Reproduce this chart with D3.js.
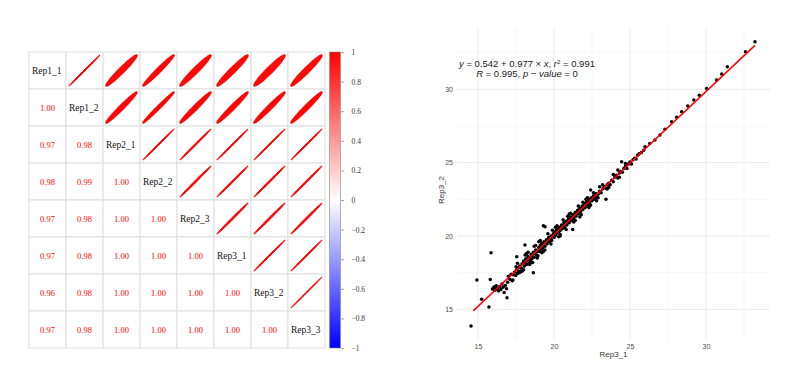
<!DOCTYPE html>
<html>
<head>
<meta charset="utf-8">
<script src="https://cdn.jsdelivr.net/npm/d3@7"></script>
<style>
  body { margin: 0; background: #fff; }
  svg { display: block; }
</style>
</head>
<body>
<script>
// sample names for the correlation matrix
const samples = ['Rep1_1', 'Rep1_2', 'Rep2_1', 'Rep2_2', 'Rep2_3', 'Rep3_1', 'Rep3_2', 'Rep3_3'];

// pearson correlations (symmetric)
const corr = [
    [1.000, 0.998, 0.970, 0.980, 0.970, 0.970, 0.960, 0.970],
    [0.998, 1.000, 0.980, 0.990, 0.980, 0.980, 0.980, 0.980],
    [0.970, 0.980, 1.000, 0.998, 0.997, 0.998, 0.998, 0.998],
    [0.980, 0.990, 0.998, 1.000, 0.996, 0.997, 0.997, 0.997],
    [0.970, 0.980, 0.997, 0.996, 1.000, 0.996, 0.996, 0.996],
    [0.970, 0.980, 0.998, 0.997, 0.996, 1.000, 0.998, 0.998],
    [0.960, 0.980, 0.998, 0.997, 0.996, 0.998, 1.000, 0.999],
    [0.970, 0.980, 0.998, 0.997, 0.996, 0.998, 0.999, 1.000]
];

const legendTicks = [1, 0.8, 0.6, 0.4, 0.2, 0, -0.2, -0.4, -0.6, -0.8, -1];

// Rep3_1 vs Rep3_2 values
const rep3_1 = [
    14.54, 14.93, 15.24, 15.72, 15.86, 15.81, 16.91, 16.07, 19.30, 19.41, 18.64, 17.55, 21.23, 18.09,
    24.45, 23.42, 22.41,
    15.95, 16.05, 16.12, 16.20, 16.28, 16.35, 16.42, 16.50, 16.58, 16.65, 16.72, 16.80, 16.88, 16.95,
    17.00, 17.10, 17.18, 17.25, 17.32, 17.40, 17.48,
    17.55, 17.60, 17.65, 17.70, 17.75, 17.80, 17.85, 17.90, 17.95, 18.00, 18.05, 18.10, 18.15, 18.20,
    18.25, 18.30, 18.35, 18.40, 18.45, 18.50, 18.55, 18.60, 18.65, 18.70, 18.75, 18.80, 18.85, 18.90,
    18.95, 19.00, 19.05, 19.10, 19.15, 19.20, 19.25, 19.30, 19.35, 19.40, 19.45, 19.50, 19.55, 19.60,
    19.65, 19.70, 19.75, 19.80, 19.85, 19.90, 19.95, 20.00,
    18.30, 18.60, 19.00, 18.00, 17.50, 19.20,
    20.05, 20.10, 20.15, 20.20, 20.25, 20.30, 20.35, 20.40, 20.45, 20.50, 20.55, 20.60, 20.65, 20.70,
    20.75, 20.80, 20.85, 20.90, 20.95, 21.00, 21.05, 21.10, 21.15, 21.20, 21.25, 21.30, 21.35, 21.40,
    21.45, 21.50, 21.55, 21.60, 21.65, 21.70, 21.75, 21.80, 21.85, 21.90, 21.95, 22.00, 22.05, 22.10,
    22.15, 22.20, 22.25, 22.30, 22.35, 22.40, 22.45, 22.50, 22.55, 22.60, 22.65, 22.70, 22.75, 22.80,
    22.90, 23.00,
    20.40, 21.00, 21.70, 20.20, 22.20, 22.80,
    23.10, 23.20, 23.30, 23.40, 23.50, 23.60, 23.70, 23.80, 23.90, 24.00, 24.10, 24.20, 24.30, 24.40,
    24.50, 24.60, 24.70, 24.80, 24.90, 25.00, 25.10, 25.20, 25.30, 25.40, 25.50, 25.60, 25.75, 25.90,
    25.99, 26.30, 26.64, 26.97, 27.30, 27.74, 28.07, 28.40, 28.80, 29.20, 29.56, 30.04, 30.70, 31.03,
    31.40, 32.60, 33.22,
    17.30, 17.60, 17.90, 18.10, 18.40, 18.70, 18.90, 19.10, 19.30, 19.60, 19.80, 20.10, 20.30, 20.60,
    20.80, 21.10, 21.30, 21.60, 21.80, 22.10, 22.30, 22.60, 22.90, 23.20, 23.50, 23.90, 24.30, 24.70,
    17.70, 18.20, 18.50, 18.80, 19.40, 19.90, 20.40, 20.90, 21.40, 21.90, 22.40, 23.00, 23.60, 24.20
];
const rep3_2 = [
    13.86, 17.00, 15.68, 15.16, 18.86, 17.04, 15.79, 16.43, 20.70, 20.63, 17.50, 18.59, 20.45, 19.38,
    25.06, 22.50, 23.13,
    16.38, 16.52, 16.30, 16.60, 16.42, 16.25, 16.55, 16.35, 16.72, 16.50, 16.15, 16.62, 16.40, 16.85,
    17.25, 17.05, 17.40, 16.95, 17.35, 17.55, 17.30,
    17.70, 17.45, 17.85, 17.60, 17.95, 17.55, 17.80, 18.10, 17.75, 18.30, 17.95, 18.20, 18.45, 18.05,
    18.35, 18.60, 18.15, 18.50, 18.30, 18.75, 18.45, 18.60, 18.90, 18.55, 18.80, 19.05, 18.70, 18.95,
    18.65, 19.20, 18.95, 19.35, 19.10, 19.50, 19.20, 19.40, 19.60, 19.30, 19.55, 19.75, 19.45, 19.65,
    19.90, 19.60, 19.80, 20.00, 19.70, 19.95, 20.15, 19.90,
    18.90, 18.20, 19.60, 17.70, 17.90, 18.85,
    20.25, 20.05, 20.40, 20.20, 20.50, 20.30, 20.60, 20.35, 20.55, 20.75, 20.50, 20.70, 20.90, 20.60,
    20.80, 21.00, 20.75, 20.95, 21.15, 20.90, 21.10, 21.30, 21.05, 21.25, 21.45, 21.20, 21.40, 21.60,
    21.35, 21.55, 21.75, 21.50, 21.70, 21.90, 21.65, 21.85, 22.05, 21.80, 22.00, 22.20, 21.95, 22.15,
    22.35, 22.10, 22.30, 22.50, 22.25, 22.45, 22.60, 22.40, 22.55, 22.75, 22.50, 22.70, 22.90, 22.65,
    22.85, 23.05,
    20.00, 21.50, 21.30, 20.70, 22.60, 22.40,
    22.95, 23.20, 23.35, 23.25, 23.50, 23.60, 23.50, 23.80, 23.70, 24.00, 24.15, 23.95, 24.30, 24.40,
    24.35, 24.60, 24.75, 24.60, 24.90, 25.05, 24.90, 25.20, 25.30, 25.25, 25.50, 25.60, 25.70, 25.85,
    26.08, 26.30, 26.54, 26.88, 27.27, 27.79, 28.09, 28.47, 28.86, 29.27, 29.60, 30.06, 30.63, 31.04,
    31.54, 32.56, 33.24,
    17.00, 18.15, 17.60, 18.70, 18.05, 19.30, 18.50, 19.70, 18.95, 20.15, 19.45, 20.60, 19.95, 21.10,
    20.45, 21.55, 20.95, 22.05, 21.45, 22.50, 21.95, 22.95, 22.60, 23.50, 23.20, 24.20, 24.00, 24.95,
    17.50, 18.80, 18.20, 19.35, 19.05, 20.40, 20.10, 21.35, 21.05, 22.30, 22.10, 23.35, 23.30, 24.50
];

const fitIntercept = 0.542;
const fitSlope = 0.977;

const w = 800;
const h = 373;

const svg = d3.select('body')
    .append('svg')
    .attr('width', w)
    .attr('height', h);

// ---------------- correlation matrix ----------------
const cell = 37;
const mx = 29, my = 52;
const n = samples.length;

const xBand = d3.scaleBand().domain(samples).range([mx, mx + cell * n]);
const yBand = d3.scaleBand().domain(samples).range([my, my + cell * n]);
const colour = d3.scaleLinear().domain([-1, 0, 1]).range(['#0000ff', '#ffffff', '#ff0000']);

const m = svg.append('g');

const cells = [];
samples.forEach((r, i) => samples.forEach((c, j) => cells.push({ r, c, i, j, v: corr[i][j] })));

// grid
m.selectAll('rect.cell')
    .data(cells)
    .enter()
    .append('rect')
    .attr('x', d => xBand(d.c))
    .attr('y', d => yBand(d.r))
    .attr('width', xBand.bandwidth())
    .attr('height', yBand.bandwidth())
    .attr('fill', 'white')
    .attr('stroke', '#dedede')
    .attr('stroke-width', 1);

// ellipses in upper triangle
function ellipse(rho, s) {
    const d = Math.acos(rho);
    const pts = d3.range(0, 73).map(k => {
        const t = k / 72 * 2 * Math.PI;
        return [s * Math.cos(t + d / 2), -s * Math.cos(t - d / 2)];
    });
    return d3.line()(pts) + 'Z';
}
const half = xBand.bandwidth() * 0.42;
m.selectAll('path.ell')
    .data(cells.filter(d => d.j > d.i))
    .enter()
    .append('path')
    .attr('transform', d => `translate(${xBand(d.c) + xBand.bandwidth() / 2},${yBand(d.r) + yBand.bandwidth() / 2})`)
    .attr('d', d => ellipse(d.v, half))
    .attr('fill', d => colour(d.v))
    .attr('stroke', d => colour(d.v))
    .attr('stroke-width', d => d.v > 0.995 ? 0.9 : 1.4)
    .attr('stroke-linejoin', 'round');

// numbers in lower triangle
m.selectAll('text.num')
    .data(cells.filter(d => d.j < d.i))
    .enter()
    .append('text')
    .attr('x', d => xBand(d.c) + xBand.bandwidth() / 2)
    .attr('y', d => yBand(d.r) + yBand.bandwidth() / 2 + 3)
    .attr('text-anchor', 'middle')
    .attr('font-family', 'Liberation Serif, serif')
    .attr('font-size', 8.5)
    .attr('fill', d => colour(d.v))
    .text(d => d3.format('.2f')(d.v));

// names on the diagonal
m.selectAll('text.lab')
    .data(cells.filter(d => d.j === d.i))
    .enter()
    .append('text')
    .attr('x', d => xBand(d.c) + 3)
    .attr('y', d => yBand(d.r) + yBand.bandwidth() / 2 + 3.5)
    .attr('font-family', 'Liberation Serif, serif')
    .attr('font-size', 9.5)
    .attr('fill', '#111')
    .text(d => d.r);

// colour legend
const barX = 329.5, barW = 11;
const legY = d3.scaleLinear().domain([-1, 1]).range([my + cell * n, my]);
const grad = svg.append('defs').append('linearGradient')
    .attr('id', 'cbar')
    .attr('x1', 0).attr('y1', 1).attr('x2', 0).attr('y2', 0);
grad.selectAll('stop')
    .data([-1, 0, 1])
    .enter()
    .append('stop')
    .attr('offset', d => (d + 1) / 2)
    .attr('stop-color', d => colour(d));

svg.append('rect')
    .attr('x', barX)
    .attr('y', legY(1))
    .attr('width', barW)
    .attr('height', legY(-1) - legY(1))
    .attr('fill', 'url(#cbar)')
    .attr('stroke', '#888')
    .attr('stroke-width', 0.6);

const legAxis = svg.append('g')
    .attr('transform', `translate(${barX + barW + 1},0)`)
    .call(d3.axisRight(legY).tickValues(legendTicks).tickSize(2).tickPadding(8).tickFormat(d3.format('')));
legAxis.select('.domain').remove();
legAxis.selectAll('line').attr('stroke', '#777');
legAxis.selectAll('text')
    .attr('font-family', 'Liberation Serif, serif')
    .attr('font-size', 7.5)
    .attr('fill', '#333');

// ---------------- scatter plot ----------------
const panel = { left: 457, right: 770, top: 28, bottom: 340 };
const xScale = d3.scaleLinear().domain([13.62, 34.21]).range([panel.left, panel.right]);
const yScale = d3.scaleLinear().domain([12.91, 34.18]).range([panel.bottom, panel.top]);

const majors = [15, 20, 25, 30];
const minors = [12.5, 17.5, 22.5, 27.5, 32.5];

const p = svg.append('g');

p.selectAll('line.hmin')
    .data(minors.filter(v => yScale(v) >= panel.top && yScale(v) <= panel.bottom))
    .enter().append('line')
    .attr('x1', panel.left).attr('x2', panel.right)
    .attr('y1', d => yScale(d)).attr('y2', d => yScale(d))
    .attr('stroke', '#f2f2f2').attr('stroke-width', 0.6);
p.selectAll('line.vmin')
    .data(minors.filter(v => xScale(v) >= panel.left && xScale(v) <= panel.right))
    .enter().append('line')
    .attr('y1', panel.top).attr('y2', panel.bottom)
    .attr('x1', d => xScale(d)).attr('x2', d => xScale(d))
    .attr('stroke', '#f2f2f2').attr('stroke-width', 0.6);
p.selectAll('line.hmaj')
    .data(majors)
    .enter().append('line')
    .attr('x1', panel.left).attr('x2', panel.right)
    .attr('y1', d => yScale(d)).attr('y2', d => yScale(d))
    .attr('stroke', '#ebebeb').attr('stroke-width', 1);
p.selectAll('line.vmaj')
    .data(majors)
    .enter().append('line')
    .attr('y1', panel.top).attr('y2', panel.bottom)
    .attr('x1', d => xScale(d)).attr('x2', d => xScale(d))
    .attr('stroke', '#ebebeb').attr('stroke-width', 1);

const xAxisG = p.append('g')
    .attr('transform', `translate(0,${panel.bottom})`)
    .call(d3.axisBottom(xScale).tickValues(majors).tickSize(0).tickPadding(4));
const yAxisG = p.append('g')
    .attr('transform', `translate(${panel.left},0)`)
    .call(d3.axisLeft(yScale).tickValues(majors).tickSize(0).tickPadding(4));
[xAxisG, yAxisG].forEach(g => {
    g.select('.domain').remove();
    g.selectAll('text')
        .attr('font-family', 'Liberation Sans, Arial, sans-serif')
        .attr('font-size', 7)
        .attr('fill', '#4d4d4d');
});

const pts = rep3_1.map((x, i) => ({ x, y: rep3_2[i] }));
p.selectAll('circle')
    .data(pts)
    .enter()
    .append('circle')
    .attr('cx', d => xScale(d.x))
    .attr('cy', d => yScale(d.y))
    .attr('r', 1.75)
    .attr('fill', '#000');

const xr = d3.extent(rep3_1);
p.append('line')
    .attr('x1', xScale(xr[0] + 0.15))
    .attr('y1', yScale(fitIntercept + fitSlope * (xr[0] + 0.15)))
    .attr('x2', xScale(xr[1]))
    .attr('y2', yScale(fitIntercept + fitSlope * xr[1]))
    .attr('stroke', '#ff0000')
    .attr('stroke-width', 1.5);

p.append('text')
    .attr('x', (panel.left + panel.right) / 2)
    .attr('y', 357)
    .attr('text-anchor', 'middle')
    .attr('font-family', 'Liberation Sans, Arial, sans-serif')
    .attr('font-size', 8)
    .attr('fill', '#333')
    .text('Rep3_1');

p.append('text')
    .attr('transform', 'translate(444,190) rotate(-90)')
    .attr('text-anchor', 'middle')
    .attr('font-family', 'Liberation Sans, Arial, sans-serif')
    .attr('font-size', 8)
    .attr('fill', '#333')
    .text('Rep3_2');

// regression equation
const eq = p.append('text')
    .attr('x', 527)
    .attr('y', 67)
    .attr('text-anchor', 'middle')
    .attr('font-family', 'Liberation Sans, Arial, sans-serif')
    .attr('font-size', 9.5)
    .attr('fill', '#222');
eq.append('tspan').attr('font-style', 'italic').text('y');
eq.append('tspan').text(' = 0.542 + 0.977 \u00d7 ');
eq.append('tspan').attr('font-style', 'italic').text('x');
eq.append('tspan').text(',  ');
eq.append('tspan').attr('font-style', 'italic').text('r');
eq.append('tspan').attr('dy', -3.5).attr('font-size', 6).text('2');
eq.append('tspan').attr('dy', 3.5).text(' = 0.991');

const eq2 = p.append('text')
    .attr('x', 527)
    .attr('y', 76.5)
    .attr('text-anchor', 'middle')
    .attr('font-family', 'Liberation Sans, Arial, sans-serif')
    .attr('font-size', 9.5)
    .attr('fill', '#222');
eq2.append('tspan').attr('font-style', 'italic').text('R');
eq2.append('tspan').text(' = 0.995,  ');
eq2.append('tspan').attr('font-style', 'italic').text('p \u2212 value');
eq2.append('tspan').text(' = 0');
</script>
</body>
</html>
